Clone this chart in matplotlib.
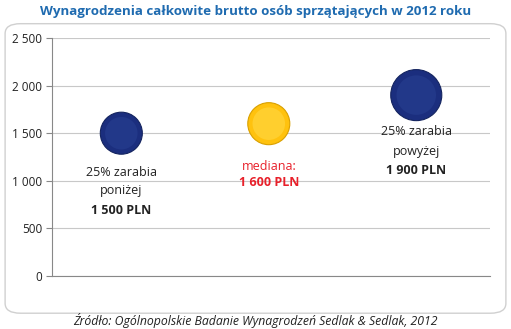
import matplotlib.pyplot as plt
from matplotlib.patches import FancyBboxPatch

# ------------------------------------------------------
# Data
# ------------------------------------------------------
positions = [1, 2, 3]
values = [1500, 1600, 1900]
colors = ["#1B2E7E", "#FFC20E", "#1B2E7E"]
edge_colors = ["#14245F", "#D9A000", "#14245F"]
highlights = ["#223889", "#FFCF2E", "#223889"]
sizes = [915, 915, 1350]
yticks = [0, 500, 1000, 1500, 2000, 2500]
ytick_labels = ["0", "500", "1 000", "1 500", "2 000", "2 500"]

title = "Wynagrodzenia całkowite brutto osób sprzątających w 2012 roku"
source = "Źródło: Ogólnopolskie Badanie Wynagrodzeń Sedlak & Sedlak, 2012"

plt.rcParams["font.family"] = ["Open Sans", "DejaVu Sans"]

fig = plt.figure(figsize=(5.11, 3.29), dpi=100)

# rounded frame (behind the axes)
frame = FancyBboxPatch((0.010, 0.048), 0.980, 0.880,
                       boxstyle="round,pad=0,rounding_size=0.03",
                       transform=fig.transFigure, facecolor="white",
                       edgecolor="#D0D0D0", linewidth=1.0, zorder=-10)
fig.patches.append(frame)

ax = fig.add_axes([52 / 511, 1 - 276 / 329, 438 / 511, 238 / 329])
ax.set_facecolor("none")

ax.scatter(positions, values, s=sizes, c=colors, edgecolors=edge_colors,
           linewidths=0.8, zorder=3)
ax.scatter(positions, values, s=[x * 0.6 for x in sizes], c=highlights,
           linewidths=0, zorder=4)

ax.set_xlim(0.53, 3.5)
ax.set_ylim(0, 2500)
ax.set_yticks(yticks)
ax.set_yticklabels(ytick_labels, fontsize=8.5, color="#222222")
ax.set_xticks([])
ax.grid(axis="y", color="#C8C8C8", linewidth=0.8)
ax.set_axisbelow(True)
for s in ["top", "right"]:
    ax.spines[s].set_visible(False)
ax.spines["left"].set_color("#888888")
ax.spines["bottom"].set_color("#888888")
ax.tick_params(axis="y", length=4, color="#888888", pad=3)

# labels
fs = 9
dark = "#222222"
red = "#E8202A"
ax.text(1, 1092, "25% zarabia", ha="center", va="center", fontsize=fs, color=dark)
ax.text(1, 893, "poniżej", ha="center", va="center", fontsize=fs, color=dark)
ax.text(1, 693, "1 500 PLN", ha="center", va="center", fontsize=fs,
        fontweight="bold", color=dark)
ax.text(2, 1145, "mediana:", ha="center", va="center", fontsize=fs, color=red)
ax.text(2, 985, "1 600 PLN", ha="center", va="center", fontsize=fs,
        fontweight="bold", color=red)
ax.text(3, 1513, "25% zarabia", ha="center", va="center", fontsize=fs, color=dark)
ax.text(3, 1313, "powyżej", ha="center", va="center", fontsize=fs, color=dark)
ax.text(3, 1103, "1 900 PLN", ha="center", va="center", fontsize=fs,
        fontweight="bold", color=dark)

fig.text(0.5, 1 - 12 / 329, title, ha="center", va="center", fontsize=9.6,
         fontweight="bold", color="#1F6BB0")
fig.text(0.5, 1 - 320 / 329, source, ha="center", va="center", fontsize=8.8,
         style="italic", color="#222222")

fig.savefig("out.png", dpi=100)
